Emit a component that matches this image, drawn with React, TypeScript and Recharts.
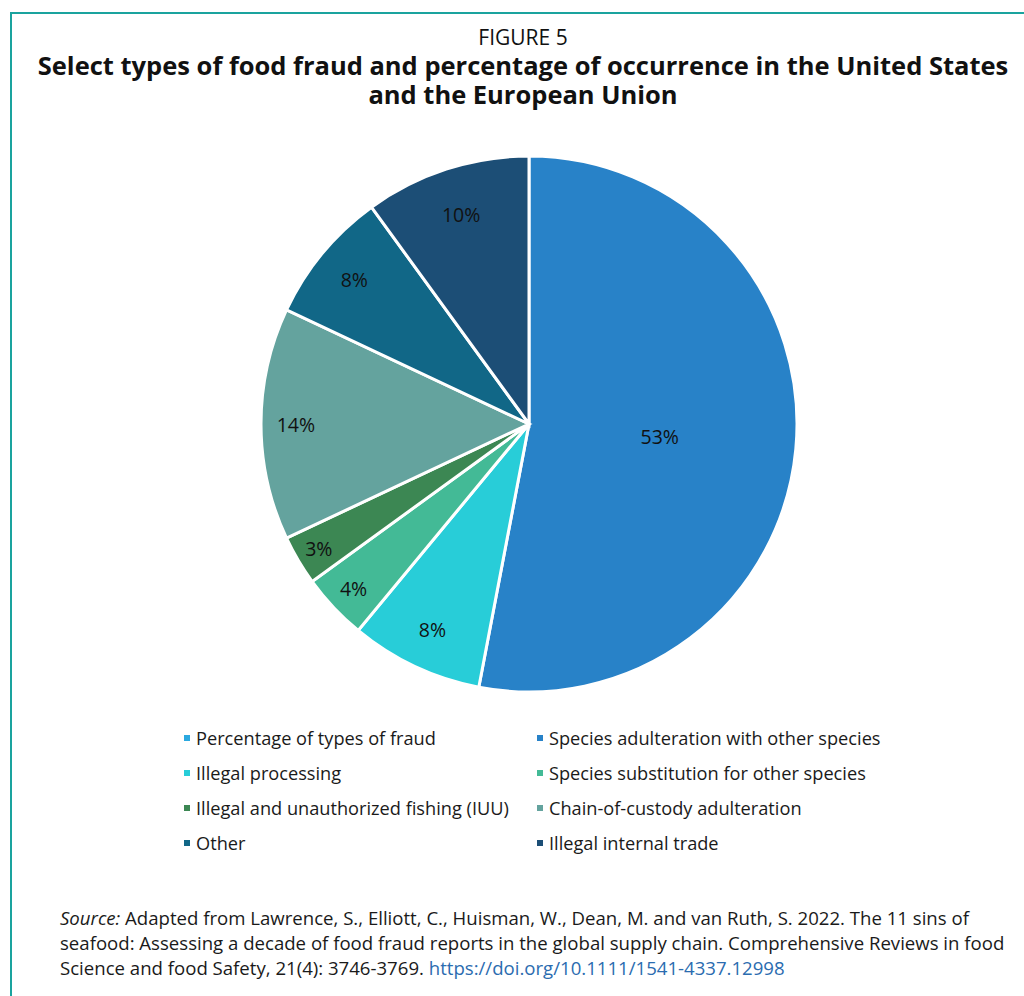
import { PieChart, Pie, Cell, Legend } from 'recharts';

const seriesName = 'Percentage of types of fraud';
const seriesColor = '#2BA9E0';

const categories = [
  'Species adulteration with other species',
  'Illegal processing',
  'Species substitution for other species',
  'Illegal and unauthorized fishing (IUU)',
  'Chain-of-custody adulteration',
  'Other',
  'Illegal internal trade',
];
const shares = [53, 8, 4, 3, 14, 8, 10];
const colors = ['#2882C8', '#28CDD8', '#43BA96', '#3C8753', '#64A39E', '#116787', '#1C4E76'];

const data = categories.map((name, i) => ({ name, value: shares[i] }));
const legendItems = [
  { name: seriesName, color: seriesColor },
  ...categories.map((name, i) => ({ name, color: colors[i] })),
];

const FONT = '"Open Sans", "Noto Sans", sans-serif';
const RAD = Math.PI / 180;

// "best fit" style: big slice labelled near the middle, small ones near the rim
function labelRadius(percent: number) {
  if (percent > 0.5) return 0.49;
  if (percent > 0.12) return 0.87;
  return 0.95 - 1.3 * percent;
}

function renderLabel(p: any) {
  const { cx, cy, midAngle, outerRadius, percent, value } = p;
  const r = outerRadius * labelRadius(percent);
  const x = cx + r * Math.cos(-midAngle * RAD);
  const y = cy + r * Math.sin(-midAngle * RAD);
  return (
    <text
      x={x}
      y={y}
      textAnchor="middle"
      dominantBaseline="central"
      fill="#111"
      fontSize={19.5}
      fontFamily={FONT}
    >
      {`${value}%`}
    </text>
  );
}

function LegendGrid() {
  return (
    <div
      style={{
        display: 'grid',
        gridTemplateColumns: '353px 370px',
        fontFamily: FONT,
        fontSize: 18.2,
        color: '#1a1a1a',
      }}
    >
      {legendItems.map((it) => (
        <div key={it.name} style={{ display: 'flex', alignItems: 'center', height: 35, whiteSpace: 'nowrap' }}>
          <span style={{ width: 6, height: 6, background: it.color, marginRight: 6, flex: 'none' }} />
          {it.name}
        </div>
      ))}
    </div>
  );
}

export default function App() {
  return (
    <div style={{ position: 'relative', width: 1024, height: 996, background: '#fff', overflow: 'hidden' }}>
      <style>{'body{margin:0}'}</style>
      <div
        style={{
          position: 'absolute',
          left: 10,
          top: 12,
          width: 1040,
          height: 1010,
          borderLeft: '2px solid #1AA39E',
          borderTop: '2px solid #1AA39E',
        }}
      />
      <div
        style={{
          position: 'absolute',
          left: 12,
          width: 1022,
          top: 23,
          textAlign: 'center',
          fontFamily: FONT,
          color: '#111',
        }}
      >
        <div style={{ fontSize: 21, lineHeight: '28px' }}>FIGURE 5</div>
        <div style={{ fontSize: 25.5, fontWeight: 700, lineHeight: '29px', whiteSpace: 'nowrap' }}>
          Select types of food fraud and percentage of occurrence in the United States
          <br />
          and the European Union
        </div>
      </div>
      <div style={{ position: 'absolute', left: 0, top: 0 }}>
        <PieChart width={1024} height={880} margin={{ top: 0, right: 0, bottom: 0, left: 0 }}>
          <Pie
            data={data}
            dataKey="value"
            nameKey="name"
            cx={529}
            cy={424}
            outerRadius={268}
            startAngle={90}
            endAngle={-270}
            stroke="#fff"
            strokeWidth={3}
            label={renderLabel}
            labelLine={false}
            isAnimationActive={false}
          >
            {data.map((d, i) => (
              <Cell key={d.name} fill={colors[i]} />
            ))}
          </Pie>
          <Legend
            content={() => <LegendGrid />}
            wrapperStyle={{ position: 'absolute', left: 184, top: 720, width: 730 }}
          />
        </PieChart>
      </div>
      <div
        style={{
          position: 'absolute',
          left: 60,
          top: 905,
          fontFamily: FONT,
          fontSize: 18.6,
          lineHeight: '25px',
          color: '#1a1a1a',
          whiteSpace: 'nowrap',
        }}
      >
        <i>Source:</i> Adapted from Lawrence, S., Elliott, C., Huisman, W., Dean, M. and van Ruth, S. 2022. The 11 sins of
        <br />
        seafood: Assessing a decade of food fraud reports in the global supply chain. Comprehensive Reviews in food
        <br />
        Science and food Safety, 21(4): 3746-3769.{' '}
        <span style={{ color: '#2B6CB0' }}>https://doi.org/10.1111/1541-4337.12998</span>
      </div>
    </div>
  );
}
